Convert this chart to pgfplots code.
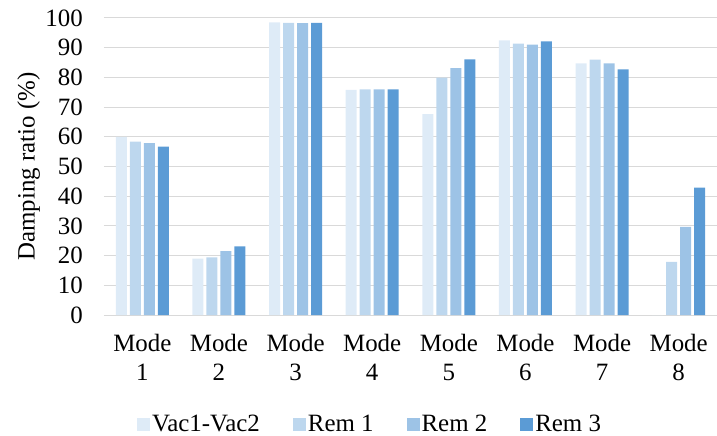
\documentclass[border=0pt]{standalone}
\usepackage{pgfplots}
\pgfplotsset{compat=1.18}
\usepackage{fontspec}
\setmainfont{Liberation Serif}
\definecolor{c1}{HTML}{DEEBF7}
\definecolor{c2}{HTML}{BDD7EE}
\definecolor{c3}{HTML}{9DC3E6}
\definecolor{c4}{HTML}{5B9BD5}
\definecolor{gridc}{HTML}{D9D9D9}
\newcommand{\cf}{\fontsize{25}{29.5}\selectfont}
\begin{document}
\begin{tikzpicture}
\useasboundingbox (-104bp,-121bp) rectangle (613bp,315bp);
\begin{axis}[
  at={(0,0)}, anchor=south west,
  scale only axis, width=613bp, height=297bp,
  xmin=-0.5, xmax=7.5, ymin=0, ymax=100,
  ybar=3bp, bar width=11bp,
  xtick={0,...,7},
  xticklabels={{Mode\\1},{Mode\\2},{Mode\\3},{Mode\\4},{Mode\\5},{Mode\\6},{Mode\\7},{Mode\\8}},
  xticklabel style={align=center, font=\cf, inner sep=0pt, yshift=-19bp},
  ytick={0,10,...,100},
  yticklabel style={font=\cf, inner sep=0pt, xshift=-21bp},
  /pgf/number format/assume math mode=true,
  ymajorgrids, grid style={draw=gridc, line width=1bp},
  axis line style={draw=none},
  major tick length=0pt,
  ylabel={Damping ratio (\%)},
  ylabel style={font=\cf, at={(axis description cs:-0.123,0.5)}, anchor=center},
  legend columns=4,
  legend style={at={(axis description cs:0.434,-0.367)}, anchor=center, draw=none, font=\cf,
    /tikz/every even column/.append style={column sep=31bp}},
  legend image code/.code={\fill[#1,draw=none] (0bp,-6.5bp) rectangle (13bp,6.5bp);},
]
\addplot[fill=c1, draw=none] coordinates {(0,60.0) (1,19.0) (2,98.5) (3,75.8) (4,67.6) (5,92.5) (6,84.7) (7,0)};
\addplot[fill=c2, draw=none] coordinates {(0,58.4) (1,19.4) (2,98.4) (3,76.0) (4,79.9) (5,91.4) (6,86.0) (7,17.9)};
\addplot[fill=c3, draw=none] coordinates {(0,57.9) (1,21.5) (2,98.3) (3,76.0) (4,83.1) (5,91.0) (6,84.7) (7,29.7)};
\addplot[fill=c4, draw=none] coordinates {(0,56.7) (1,23.1) (2,98.4) (3,76.0) (4,86.1) (5,92.1) (6,82.7) (7,42.9)};
\legend{Vac1-Vac2, Rem 1, Rem 2, Rem 3}
\end{axis}
\end{tikzpicture}
\end{document}
